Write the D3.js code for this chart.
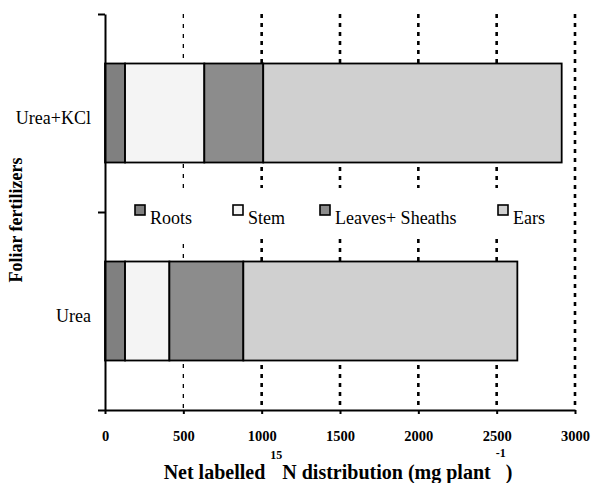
<!DOCTYPE html>
<html>
<head>
<meta charset="utf-8">
<script src="https://cdn.jsdelivr.net/npm/d3@7"></script>
<style>
  body { margin: 0; background: #fff; }
  svg text { font-family: "Liberation Serif", "Times New Roman", serif; }
</style>
</head>
<body>
<svg width="593" height="483"></svg>
<script>
// data (mg plant-1)
const categories = ["Urea+KCl", "Urea"];
const parts = ["Roots", "Stem", "Leaves+ Sheaths", "Ears"];
const roots = [128, 128];
const stem = [506, 283];
const leaves = [376, 472];
const ears = [1905, 1749];
const xTicks = [0, 500, 1000, 1500, 2000, 2500, 3000];
const partColors = ["#808080", "#f4f4f4", "#8c8c8c", "#d0d0d0"];

const svg = d3.select("svg");

const rows = categories.map((c, i) => ({
  cat: c, Roots: roots[i], Stem: stem[i], "Leaves+ Sheaths": leaves[i], Ears: ears[i]
}));
const stacked = d3.stack().keys(parts)(rows);

const x = d3.scaleLinear().domain([0, 3000]).range([105, 575]);
const y = d3.scaleBand().domain(categories).range([14, 410])
  .paddingInner(0.5).paddingOuter(0.25);
const color = d3.scaleOrdinal().domain(parts).range(partColors);

// gridlines
svg.append("g")
  .selectAll("line")
  .data(xTicks.filter(d => d > 0))
  .enter().append("line")
  .attr("x1", d => x(d)).attr("x2", d => x(d))
  .attr("y1", 14).attr("y2", 410)
  .attr("stroke", "#000")
  .attr("stroke-width", d => d === 500 ? 1.3 : 2.6)
  .attr("stroke-dasharray", d => d === 500 ? "4,6" : "4,5");

// legend background hides the grid
svg.append("rect")
  .attr("x", 112).attr("y", 188).attr("width", 452).attr("height", 50)
  .attr("fill", "#fff");

// bars
svg.append("g")
  .selectAll("g")
  .data(stacked)
  .enter().append("g")
  .attr("fill", d => color(d.key))
  .selectAll("rect")
  .data(d => d)
  .enter().append("rect")
  .attr("x", d => x(d[0]))
  .attr("y", d => y(d.data.cat))
  .attr("width", d => x(d[1]) - x(d[0]))
  .attr("height", y.bandwidth())
  .attr("stroke", "#000")
  .attr("stroke-width", 1.8);

// y axis: ticks on category boundaries
const yb = d3.scaleLinear().domain([0, categories.length]).range([14, 410]);
svg.append("g")
  .attr("transform", "translate(105,0)")
  .call(d3.axisLeft(yb).tickValues(d3.range(categories.length + 1)).tickFormat("").tickSize(7).tickSizeOuter(0))
  .call(g => g.selectAll("line, path").attr("stroke", "#000").attr("stroke-width", 2));

svg.append("g")
  .selectAll("text")
  .data(categories)
  .enter().append("text")
  .attr("x", 91)
  .attr("y", d => y(d) + y.bandwidth() / 2 + 5)
  .attr("dy", "0.35em")
  .attr("text-anchor", "end")
  .attr("font-size", 18)
  .text(d => d);

// x axis
svg.append("g")
  .attr("transform", "translate(0,410)")
  .call(d3.axisBottom(x).tickValues(xTicks).tickFormat(d3.format("d")).tickSize(4).tickPadding(17).tickSizeOuter(0))
  .attr("font-family", null)
  .call(g => g.selectAll("line, path").attr("stroke", "#000").attr("stroke-width", 2))
  .call(g => g.selectAll("text")
    .attr("font-size", 14.5).attr("font-weight", "bold").attr("fill", "#000"));

// legend
const legendX = [135, 233, 320, 498];
const lg = svg.append("g")
  .selectAll("g")
  .data(parts)
  .enter().append("g")
  .attr("transform", (d, i) => `translate(${legendX[i]},205)`);
lg.append("rect")
  .attr("width", 10).attr("height", 10)
  .attr("fill", d => color(d))
  .attr("stroke", "#000").attr("stroke-width", 1.6);
lg.append("text")
  .attr("x", 15).attr("y", 19)
  .attr("font-size", 18)
  .text(d => d);

// axis titles
const xt = svg.append("text")
  .attr("x", 338).attr("y", 479)
  .attr("text-anchor", "middle")
  .attr("font-size", 20).attr("font-weight", "bold");
xt.append("tspan").text("Net labelled ");
xt.append("tspan").attr("font-size", 12).attr("dy", -20).text("15");
xt.append("tspan").attr("dy", 20).text("N distribution (mg plant ");
xt.append("tspan").attr("font-size", 12).attr("dy", -22).text("-1");
xt.append("tspan").attr("dy", 22).text(")");

svg.append("text")
  .attr("transform", "translate(22,220) rotate(-90)")
  .attr("text-anchor", "middle")
  .attr("font-size", 18).attr("font-weight", "bold")
  .text("Foliar fertilizers");
</script>
</body>
</html>
